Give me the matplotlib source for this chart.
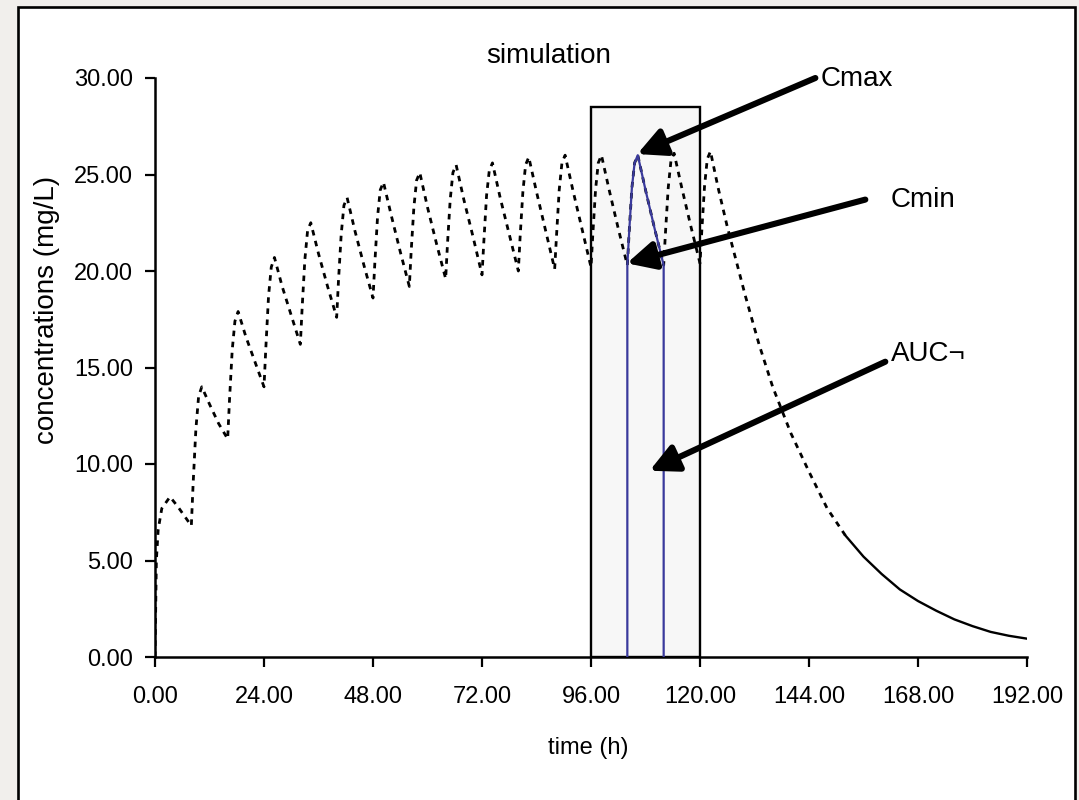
import matplotlib
matplotlib.use("Agg")
import matplotlib.pyplot as plt
from matplotlib.patches import Rectangle
from matplotlib.ticker import FormatStrFormatter

plt.rcParams["font.family"] = ["Liberation Sans", "DejaVu Sans"]

# ================= DATA =================
# simulated concentration (mg/L) vs time (h), dose every 8 h, last dose at 120 h
time_h = [
    0, 0.3, 0.7, 1.5, 3.3, 5.0, 6.5,
    8, 8.4, 9.0, 9.6, 10.3, 12, 14,
    16, 16.4, 17.0, 17.6, 18.3, 20, 22,
    24, 24.4, 25.0, 25.6, 26.3, 28, 30,
    32, 32.4, 33.0, 33.6, 34.3, 36, 38,
    40, 40.4, 41.0, 41.6, 42.3, 44, 46,
    48, 48.4, 49.0, 49.6, 50.3, 52, 54,
    56, 56.4, 57.0, 57.6, 58.3, 60, 62,
    64, 64.4, 65.0, 65.6, 66.3, 68, 70,
    72, 72.4, 73.0, 73.6, 74.3, 76, 78,
    80, 80.4, 81.0, 81.6, 82.3, 84, 86,
    88, 88.4, 89.0, 89.6, 90.3, 92, 94,
    96, 96.4, 97.0, 97.6, 98.3, 100, 102,
    104, 104.4, 105.0, 105.6, 106.3, 108, 110,
    112, 112.4, 113.0, 113.6, 114.3, 116, 118,
    120, 120.4, 121.0, 121.6, 122.3, 124, 126,
    128, 130, 133, 136, 140, 144, 148, 152, 156, 160,
    164, 168, 172, 176, 180, 184, 188, 192,
]
conc_mg_l = [
    0.0, 5.0, 6.6, 7.7, 8.3, 7.8, 7.3,
    6.8, 9.0, 11.8, 13.5, 14.0, 13.1, 12.1,
    11.3, 13.3, 15.9, 17.4, 17.9, 16.6, 15.3,
    14.0, 16.0, 18.7, 20.2, 20.7, 19.2, 17.7,
    16.2, 18.1, 20.6, 22.1, 22.5, 20.9, 19.2,
    17.6, 19.5, 21.9, 23.4, 23.8, 22.1, 20.3,
    18.6, 20.4, 22.8, 24.2, 24.6, 22.9, 21.0,
    19.2, 21.0, 23.3, 24.7, 25.1, 23.3, 21.4,
    19.6, 21.4, 23.7, 25.1, 25.5, 23.7, 21.8,
    19.8, 21.5, 23.9, 25.2, 25.6, 23.8, 21.9,
    20.0, 21.8, 24.1, 25.5, 25.9, 24.1, 22.1,
    20.1, 21.8, 24.2, 25.6, 26.0, 24.2, 22.2,
    20.2, 21.9, 24.2, 25.6, 26.0, 24.2, 22.2,
    20.3, 22.0, 24.3, 25.6, 26.0, 24.2, 22.2,
    20.3, 22.0, 24.3, 25.7, 26.1, 24.3, 22.3,
    20.4, 22.1, 24.4, 25.8, 26.2, 24.3, 22.3,
    20.5, 18.7, 16.2, 14.0, 11.6, 9.6, 7.7, 6.3, 5.2, 4.3,
    3.5, 2.9, 2.4, 1.95, 1.6, 1.3, 1.1, 0.95,
]

# highlighted dosing interval (blue) and the grey window around it
interval_start, interval_end = 104, 112
window_start, window_end, window_top = 96, 120, 28.5
solid_from = 150  # tail drawn as a solid line

x_ticks = [0, 24, 48, 72, 96, 120, 144, 168, 192]
y_ticks = [0, 5, 10, 15, 20, 25, 30]
# =======================================


def main():
    fig = plt.figure(figsize=(10.79, 8), dpi=100)
    fig.patch.set_facecolor("#f1efec")
    W, H = 1079, 800

    # white slide frame
    frame = Rectangle((18 / W, -0.02), (1075 - 18) / W, (1 - 7 / H) + 0.02,
                      transform=fig.transFigure, facecolor="white",
                      edgecolor="black", linewidth=1.9, zorder=-10)
    fig.patches.append(frame)

    ax = fig.add_axes([155 / W, 1 - 657 / H, (1027 - 155) / W, (657 - 78) / H])
    ax.set_facecolor("none")

    ax.add_patch(Rectangle((window_start, 0), window_end - window_start, window_top,
                           facecolor="#f7f7f7", edgecolor="black", linewidth=1.7, zorder=1))

    split = next(i for i, t in enumerate(time_h) if t >= solid_from)
    ax.plot(time_h[:split + 1], conc_mg_l[:split + 1], color="black", linewidth=2.0,
            linestyle=(0, (2.0, 2.0)), zorder=3)
    ax.plot(time_h[split:], conc_mg_l[split:], color="black", linewidth=1.7, zorder=3)

    bx = [t for t in time_h if interval_start <= t <= interval_end]
    by = [c for t, c in zip(time_h, conc_mg_l) if interval_start <= t <= interval_end]
    ax.plot([bx[0]] + bx + [bx[-1]], [0] + by + [0], color="#3a3a9c", linewidth=1.6, zorder=4)

    arrow = dict(arrowstyle="-|>", color="black", lw=4.4, mutation_scale=42,
                 shrinkA=0, shrinkB=0)
    notes = [
        ("Cmax", (106.2, 26.06), (145.4, 30.0), (146.6, 29.95)),
        ("Cmin", (103.9, 20.4), (156.4, 23.7), (162.0, 23.7)),
        ("AUC\u00ac", (108.9, 9.65), (160.8, 15.3), (162.0, 15.7)),
    ]
    for label, tip, tail, pos in notes:
        ax.annotate("", xy=tip, xytext=tail, arrowprops=arrow, annotation_clip=False, zorder=6)
        ax.text(pos[0], pos[1], label, fontsize=20, va="center", ha="left", clip_on=False)

    ax.set_xlim(0, 192)
    ax.set_ylim(0, 30)
    ax.set_xticks(x_ticks)
    ax.set_yticks(y_ticks)
    ax.xaxis.set_major_formatter(FormatStrFormatter("%.2f"))
    ax.yaxis.set_major_formatter(FormatStrFormatter("%.2f"))
    for s in ["top", "right"]:
        ax.spines[s].set_visible(False)
    for s in ["left", "bottom"]:
        ax.spines[s].set_linewidth(1.8)
    ax.tick_params(axis="both", labelsize=17, length=7, width=1.6, direction="out")
    ax.tick_params(axis="x", pad=14)
    ax.tick_params(axis="y", pad=9)

    fig.text(549 / W, 1 - 63 / H, "simulation", fontsize=20, ha="center", va="baseline")
    fig.text(588 / W, 1 - 748 / H, "time (h)", fontsize=17, ha="center", va="center")
    fig.text(47 / W, 1 - 310 / H, "concentrations (mg/L)", fontsize=20, ha="center",
             va="center", rotation=90)

    fig.savefig("out.png", dpi=100, facecolor=fig.get_facecolor())
    plt.close(fig)


if __name__ == "__main__":
    main()
